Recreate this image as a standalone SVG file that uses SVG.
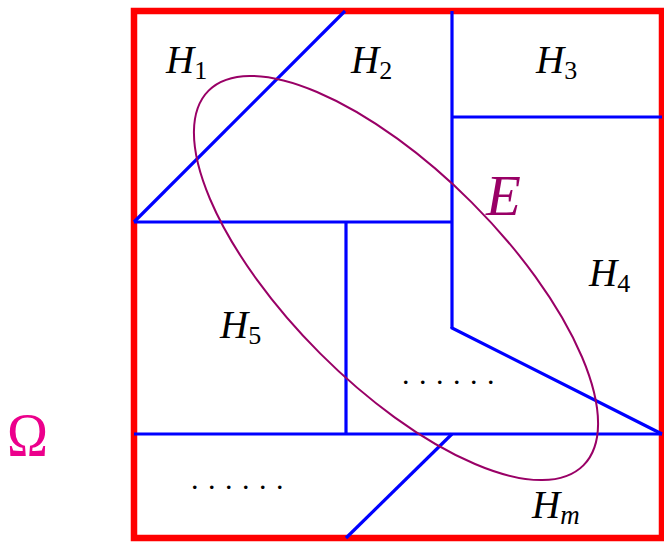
<svg xmlns="http://www.w3.org/2000/svg" width="664" height="542" viewBox="0 0 664 542">
<style>
.blue{stroke:#0000ff;stroke-width:3.2;fill:none;stroke-linecap:butt}
.lbl{font-family:"Liberation Serif","Times New Roman",serif;font-style:italic;font-size:39px;fill:#000}
.sub{font-style:normal;font-size:26px}
.subi{font-style:italic;font-size:27px}
.dots{font-family:"Liberation Serif",serif;font-size:30px;letter-spacing:9.5px;fill:#000}
</style>
<rect width="664" height="542" fill="#fff"/>
<g id="domain">
<rect x="134" y="11" width="528" height="527" fill="none" stroke="#ff0000" stroke-width="6.5"/>
</g>
<g id="connectors">
<line class="blue" x1="134" y1="222" x2="345" y2="11"/>
<line class="blue" x1="134" y1="222" x2="452" y2="222"/>
<line class="blue" x1="452" y1="11" x2="452" y2="328"/>
<line class="blue" x1="452" y1="117" x2="662" y2="117"/>
<line class="blue" x1="346" y1="222" x2="346" y2="434"/>
<polyline class="blue" points="452,327 452,328 662,434"/>
<line class="blue" x1="134" y1="434" x2="662" y2="434"/>
<line class="blue" x1="452" y1="434" x2="346" y2="538"/>
</g>
<g id="ellipseE">
<ellipse cx="0" cy="0" rx="265" ry="107" transform="translate(396,278) rotate(45)" fill="none" stroke="#990066" stroke-width="2"/>
<text x="486" y="215" font-family="Liberation Serif,serif" font-style="italic" font-size="57" fill="#990066">E</text>
</g>
<g id="H1"><text class="lbl" x="166" y="73">H<tspan class="sub" dy="6">1</tspan></text></g>
<g id="H2"><text class="lbl" x="351" y="73">H<tspan class="sub" dy="6">2</tspan></text></g>
<g id="H3"><text class="lbl" x="536" y="73">H<tspan class="sub" dy="6">3</tspan></text></g>
<g id="H4"><text class="lbl" x="589" y="286">H<tspan class="sub" dy="6">4</tspan></text></g>
<g id="H5"><text class="lbl" x="220" y="338">H<tspan class="sub" dy="6">5</tspan></text></g>
<g id="Hm"><text class="lbl" x="532" y="518">H<tspan class="subi" dy="6">m</tspan></text></g>
<g id="dots1"><text class="dots" x="402" y="383.5">......</text></g>
<g id="dots2"><text class="dots" x="191" y="488.5">......</text></g>
<g id="omega"><text x="7" y="455" font-family="Liberation Serif,serif" font-size="62" fill="#ec008c" textLength="41" lengthAdjust="spacingAndGlyphs">Ω</text></g>
</svg>
